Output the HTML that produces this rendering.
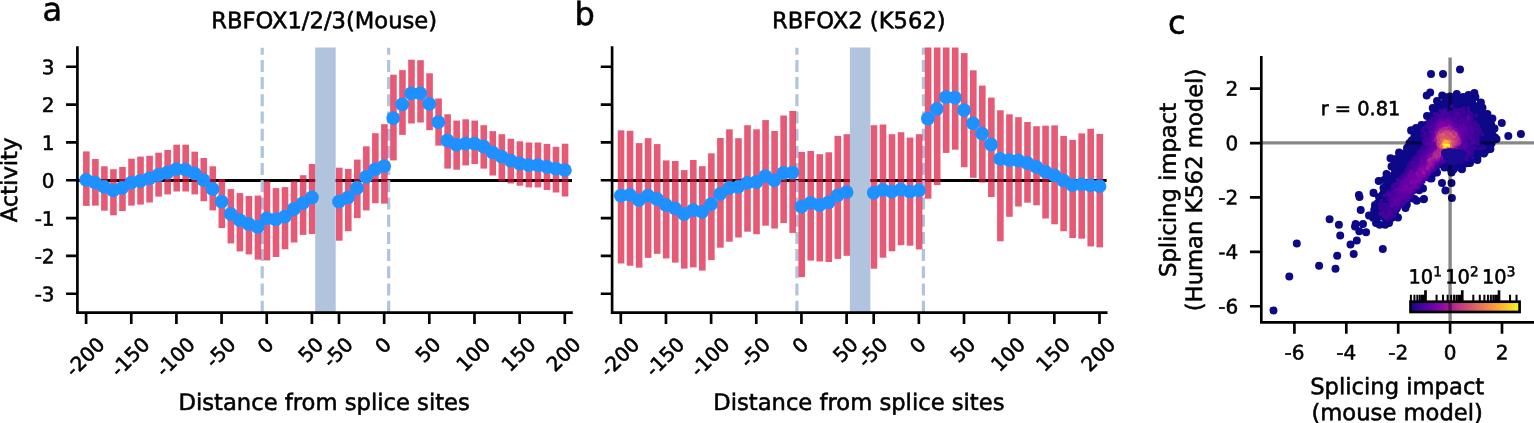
<!DOCTYPE html>
<html lang="en"><head><meta charset="utf-8"><title>RBFOX splicing activity</title>
<style>html,body{margin:0;padding:0;background:#fff}body{width:1534px;height:423px;overflow:hidden}svg{display:block}text{white-space:pre}</style>
</head><body>
<svg width="1534" height="423" viewBox="0 0 1534 423" font-family='"DejaVu Sans","Liberation Sans",sans-serif' fill="#000">
<style>text{stroke:#000;stroke-width:0.55px;paint-order:stroke}</style>
<rect width="1534" height="423" fill="#fff"/>
<clipPath id="clip0"><rect x="77.4" y="47.6" width="494.7" height="265.1"/></clipPath>
<g clip-path="url(#clip0)">
<line x1="77.4" y1="180.5" x2="572.1" y2="180.5" stroke="#000" stroke-width="3.2"/>
<line x1="262.22" y1="312.7" x2="262.22" y2="47.6" stroke="#b0c4de" stroke-width="3.2" stroke-dasharray="12 5.2"/>
<line x1="388.67" y1="312.7" x2="388.67" y2="47.6" stroke="#b0c4de" stroke-width="3.2" stroke-dasharray="12 5.2"/>
<g fill="#dc143c" fill-opacity="0.7">
<rect x="83.05" y="151.4" width="6.6" height="54.5"/>
<rect x="92.08" y="159" width="6.6" height="46.6"/>
<rect x="101.11" y="166.3" width="6.6" height="44.4"/>
<rect x="110.15" y="169.2" width="6.6" height="46.1"/>
<rect x="119.18" y="166.9" width="6.6" height="44.1"/>
<rect x="128.21" y="158.7" width="6.6" height="46.9"/>
<rect x="137.24" y="156.6" width="6.6" height="48"/>
<rect x="146.27" y="155.8" width="6.6" height="46.7"/>
<rect x="155.31" y="152.7" width="6.6" height="43.9"/>
<rect x="164.34" y="150" width="6.6" height="44.4"/>
<rect x="173.37" y="144.7" width="6.6" height="46.8"/>
<rect x="182.4" y="144.7" width="6.6" height="46.8"/>
<rect x="191.43" y="151.7" width="6.6" height="42.7"/>
<rect x="200.47" y="158" width="6.6" height="43.2"/>
<rect x="209.5" y="166.3" width="6.6" height="44.1"/>
<rect x="218.53" y="179.1" width="6.6" height="49"/>
<rect x="227.56" y="189.1" width="6.6" height="54.3"/>
<rect x="236.59" y="193.1" width="6.6" height="58.3"/>
<rect x="245.63" y="196" width="6.6" height="58.4"/>
<rect x="254.66" y="195.6" width="6.6" height="64"/>
<rect x="263.69" y="181.2" width="6.6" height="79.2"/>
<rect x="272.72" y="188.1" width="6.6" height="68.9"/>
<rect x="281.75" y="187.1" width="6.6" height="62.2"/>
<rect x="290.79" y="181.2" width="6.6" height="61.3"/>
<rect x="299.82" y="175.2" width="6.6" height="59.7"/>
<rect x="308.85" y="164" width="6.6" height="70"/>
<rect x="335.95" y="167.7" width="6.6" height="73"/>
<rect x="344.98" y="168.9" width="6.6" height="62.3"/>
<rect x="354.01" y="159.6" width="6.6" height="58.5"/>
<rect x="363.04" y="146.3" width="6.6" height="64.1"/>
<rect x="372.07" y="133.2" width="6.6" height="70"/>
<rect x="381.11" y="124.2" width="6.6" height="79.4"/>
<rect x="390.14" y="74.7" width="6.6" height="85.7"/>
<rect x="399.17" y="70.1" width="6.6" height="64.8"/>
<rect x="408.2" y="59.7" width="6.6" height="63.8"/>
<rect x="417.23" y="60.2" width="6.6" height="62.3"/>
<rect x="426.27" y="73.3" width="6.6" height="56.8"/>
<rect x="435.3" y="98.5" width="6.6" height="47.1"/>
<rect x="444.33" y="114.3" width="6.6" height="54.3"/>
<rect x="453.36" y="120.6" width="6.6" height="49.1"/>
<rect x="462.39" y="119.3" width="6.6" height="46.1"/>
<rect x="471.43" y="120.6" width="6.6" height="43.4"/>
<rect x="480.46" y="125.2" width="6.6" height="43.4"/>
<rect x="489.49" y="131.1" width="6.6" height="44.4"/>
<rect x="498.52" y="134.2" width="6.6" height="47.3"/>
<rect x="507.55" y="138.8" width="6.6" height="44.7"/>
<rect x="516.59" y="141.3" width="6.6" height="44.4"/>
<rect x="525.62" y="142.5" width="6.6" height="44.9"/>
<rect x="534.65" y="142.5" width="6.6" height="44.9"/>
<rect x="543.68" y="143.9" width="6.6" height="46.1"/>
<rect x="552.71" y="146.8" width="6.6" height="45.7"/>
<rect x="561.75" y="143.7" width="6.6" height="52.8"/>
</g>
<rect x="315.2" y="46.6" width="20.5" height="266.1" fill="#b0c4de"/>
</g>
<g fill="#1e90ff">
<circle cx="86.1" cy="179.8" r="6.9"/>
<circle cx="95.13" cy="182.7" r="6.9"/>
<circle cx="104.16" cy="186.9" r="6.9"/>
<circle cx="113.2" cy="190.3" r="6.9"/>
<circle cx="122.23" cy="187.8" r="6.9"/>
<circle cx="131.26" cy="182.7" r="6.9"/>
<circle cx="140.29" cy="181" r="6.9"/>
<circle cx="149.32" cy="178.4" r="6.9"/>
<circle cx="158.36" cy="175" r="6.9"/>
<circle cx="167.39" cy="172.5" r="6.9"/>
<circle cx="176.42" cy="169.1" r="6.9"/>
<circle cx="185.45" cy="169.6" r="6.9"/>
<circle cx="194.48" cy="173.3" r="6.9"/>
<circle cx="203.52" cy="180.1" r="6.9"/>
<circle cx="212.55" cy="189" r="6.9"/>
<circle cx="221.58" cy="201.7" r="6.9"/>
<circle cx="230.61" cy="213.8" r="6.9"/>
<circle cx="239.64" cy="220.1" r="6.9"/>
<circle cx="248.68" cy="224" r="6.9"/>
<circle cx="257.71" cy="226.9" r="6.9"/>
<circle cx="266.74" cy="218.4" r="6.9"/>
<circle cx="275.77" cy="219.3" r="6.9"/>
<circle cx="284.8" cy="216.7" r="6.9"/>
<circle cx="293.84" cy="209" r="6.9"/>
<circle cx="302.87" cy="203.1" r="6.9"/>
<circle cx="311.9" cy="197.5" r="6.9"/>
<circle cx="339" cy="201.6" r="6.9"/>
<circle cx="348.03" cy="197.3" r="6.9"/>
<circle cx="357.06" cy="188" r="6.9"/>
<circle cx="366.09" cy="176.9" r="6.9"/>
<circle cx="375.12" cy="169.3" r="6.9"/>
<circle cx="384.16" cy="166.2" r="6.9"/>
<circle cx="393.19" cy="118.1" r="6.9"/>
<circle cx="402.22" cy="104.3" r="6.9"/>
<circle cx="411.25" cy="93.4" r="6.9"/>
<circle cx="420.28" cy="93.4" r="6.9"/>
<circle cx="429.32" cy="103.9" r="6.9"/>
<circle cx="438.35" cy="122.2" r="6.9"/>
<circle cx="447.38" cy="140.5" r="6.9"/>
<circle cx="456.41" cy="144.8" r="6.9"/>
<circle cx="465.44" cy="143.6" r="6.9"/>
<circle cx="474.48" cy="143.6" r="6.9"/>
<circle cx="483.51" cy="146.5" r="6.9"/>
<circle cx="492.54" cy="152.4" r="6.9"/>
<circle cx="501.57" cy="156.7" r="6.9"/>
<circle cx="510.6" cy="160.6" r="6.9"/>
<circle cx="519.64" cy="163.5" r="6.9"/>
<circle cx="528.67" cy="165.2" r="6.9"/>
<circle cx="537.7" cy="165.2" r="6.9"/>
<circle cx="546.73" cy="166.9" r="6.9"/>
<circle cx="555.76" cy="168.6" r="6.9"/>
<circle cx="564.8" cy="170.2" r="6.9"/>
</g>
<path d="M77.4 46.27V312.7M76.07 312.7H572.84" stroke="#000" stroke-width="2.67" fill="none"/>
<path d="M66.07 66.73H77.4M66.07 104.57H77.4M66.07 142.41H77.4M66.07 180.25H77.4M66.07 218.09H77.4M66.07 255.93H77.4M66.07 293.77H77.4M86.1 312.7V323.93M131.26 312.7V323.93M176.42 312.7V323.93M221.58 312.7V323.93M266.74 312.7V323.93M311.9 312.7V323.93M339 312.7V323.93M384.16 312.7V323.93M429.32 312.7V323.93M474.48 312.7V323.93M519.64 312.7V323.93M564.8 312.7V323.93" stroke="#000" stroke-width="2.67" fill="none"/>
<text transform="translate(54.6 74.28) rotate(0.03)" font-size="20" text-anchor="end">3</text>
<text transform="translate(54.6 112.12) rotate(0.03)" font-size="20" text-anchor="end">2</text>
<text transform="translate(54.6 149.96) rotate(0.03)" font-size="20" text-anchor="end">1</text>
<text transform="translate(54.6 187.8) rotate(0.03)" font-size="20" text-anchor="end">0</text>
<text transform="translate(54.6 225.64) rotate(0.03)" font-size="20" text-anchor="end">-1</text>
<text transform="translate(54.6 263.48) rotate(0.03)" font-size="20" text-anchor="end">-2</text>
<text transform="translate(54.6 301.32) rotate(0.03)" font-size="20" text-anchor="end">-3</text>
<text transform="translate(84.7 356.65) rotate(-45)" x="0" y="7.3" font-size="20" text-anchor="middle">-200</text>
<text transform="translate(129.86 356.65) rotate(-45)" x="0" y="7.3" font-size="20" text-anchor="middle">-150</text>
<text transform="translate(175.02 356.65) rotate(-45)" x="0" y="7.3" font-size="20" text-anchor="middle">-100</text>
<text transform="translate(220.18 352.15) rotate(-45)" x="0" y="7.3" font-size="20" text-anchor="middle">-50</text>
<text transform="translate(265.34 345.1) rotate(-45)" x="0" y="7.3" font-size="20" text-anchor="middle">0</text>
<text transform="translate(310.5 349.6) rotate(-45)" x="0" y="7.3" font-size="20" text-anchor="middle">50</text>
<text transform="translate(337.6 352.15) rotate(-45)" x="0" y="7.3" font-size="20" text-anchor="middle">-50</text>
<text transform="translate(382.76 345.1) rotate(-45)" x="0" y="7.3" font-size="20" text-anchor="middle">0</text>
<text transform="translate(427.92 349.6) rotate(-45)" x="0" y="7.3" font-size="20" text-anchor="middle">50</text>
<text transform="translate(473.08 354.09) rotate(-45)" x="0" y="7.3" font-size="20" text-anchor="middle">100</text>
<text transform="translate(518.24 354.09) rotate(-45)" x="0" y="7.3" font-size="20" text-anchor="middle">150</text>
<text transform="translate(563.4 354.09) rotate(-45)" x="0" y="7.3" font-size="20" text-anchor="middle">200</text>
<text transform="translate(324.15 28.2) rotate(0.03)" font-size="22.67" text-anchor="middle">RBFOX1/2/3(Mouse)</text>
<text transform="translate(324.15 410) rotate(0.03)" font-size="22.67" text-anchor="middle">Distance from splice sites</text>
<clipPath id="clip534"><rect x="612.1" y="47.6" width="494.7" height="265.1"/></clipPath>
<g clip-path="url(#clip534)">
<line x1="612.1" y1="180.5" x2="1106.8" y2="180.5" stroke="#000" stroke-width="3.2"/>
<line x1="796.92" y1="312.7" x2="796.92" y2="47.6" stroke="#b0c4de" stroke-width="3.2" stroke-dasharray="12 5.2"/>
<line x1="923.37" y1="312.7" x2="923.37" y2="47.6" stroke="#b0c4de" stroke-width="3.2" stroke-dasharray="12 5.2"/>
<g fill="#dc143c" fill-opacity="0.7">
<rect x="617.75" y="130.3" width="6.6" height="133.2"/>
<rect x="626.78" y="130.8" width="6.6" height="134.9"/>
<rect x="635.81" y="143.1" width="6.6" height="124.6"/>
<rect x="644.85" y="138.2" width="6.6" height="119.7"/>
<rect x="653.88" y="144.1" width="6.6" height="109.7"/>
<rect x="662.91" y="160.4" width="6.6" height="98"/>
<rect x="671.94" y="161" width="6.6" height="101.6"/>
<rect x="680.97" y="170.1" width="6.6" height="98.5"/>
<rect x="690.01" y="160" width="6.6" height="107.4"/>
<rect x="699.04" y="166.2" width="6.6" height="104.4"/>
<rect x="708.07" y="153.3" width="6.6" height="106.8"/>
<rect x="717.1" y="138" width="6.6" height="109.7"/>
<rect x="726.13" y="129.3" width="6.6" height="112.4"/>
<rect x="735.17" y="138.2" width="6.6" height="99.3"/>
<rect x="744.2" y="125.2" width="6.6" height="106.5"/>
<rect x="753.23" y="129.3" width="6.6" height="104.9"/>
<rect x="762.26" y="120.1" width="6.6" height="105.6"/>
<rect x="771.29" y="131" width="6.6" height="97.6"/>
<rect x="780.33" y="115.5" width="6.6" height="107.5"/>
<rect x="789.36" y="110.9" width="6.6" height="122"/>
<rect x="798.39" y="151.9" width="6.6" height="125.2"/>
<rect x="807.42" y="151" width="6.6" height="109.6"/>
<rect x="816.45" y="154.2" width="6.6" height="107.3"/>
<rect x="825.49" y="152.3" width="6.6" height="109.7"/>
<rect x="834.52" y="135.9" width="6.6" height="123"/>
<rect x="843.55" y="134.2" width="6.6" height="121.6"/>
<rect x="870.65" y="125.2" width="6.6" height="143.5"/>
<rect x="879.68" y="124.5" width="6.6" height="133.2"/>
<rect x="888.71" y="134.2" width="6.6" height="117.1"/>
<rect x="897.74" y="132.2" width="6.6" height="113"/>
<rect x="906.77" y="137.6" width="6.6" height="108.1"/>
<rect x="915.81" y="134.2" width="6.6" height="115.2"/>
<rect x="924.84" y="40" width="6.6" height="158.7"/>
<rect x="933.87" y="40" width="6.6" height="145.1"/>
<rect x="942.9" y="40" width="6.6" height="112.9"/>
<rect x="951.93" y="40" width="6.6" height="109.7"/>
<rect x="960.97" y="53.1" width="6.6" height="114.1"/>
<rect x="970" y="70.3" width="6.6" height="107.5"/>
<rect x="979.03" y="85.6" width="6.6" height="96.9"/>
<rect x="988.06" y="97.6" width="6.6" height="99.4"/>
<rect x="997.09" y="110.3" width="6.6" height="131"/>
<rect x="1006.13" y="114.3" width="6.6" height="102.5"/>
<rect x="1015.16" y="117.2" width="6.6" height="89.3"/>
<rect x="1024.19" y="122" width="6.6" height="80.7"/>
<rect x="1033.22" y="126.2" width="6.6" height="79.1"/>
<rect x="1042.25" y="125.7" width="6.6" height="92.8"/>
<rect x="1051.29" y="125.4" width="6.6" height="98.9"/>
<rect x="1060.32" y="135.9" width="6.6" height="95.3"/>
<rect x="1069.35" y="139.9" width="6.6" height="98.1"/>
<rect x="1078.38" y="133.4" width="6.6" height="105.3"/>
<rect x="1087.41" y="128.8" width="6.6" height="117.6"/>
<rect x="1096.45" y="133.9" width="6.6" height="113.5"/>
</g>
<rect x="849.9" y="46.6" width="20.5" height="266.1" fill="#b0c4de"/>
</g>
<g fill="#1e90ff">
<circle cx="620.8" cy="195.6" r="6.9"/>
<circle cx="629.83" cy="194.8" r="6.9"/>
<circle cx="638.86" cy="200.2" r="6.9"/>
<circle cx="647.9" cy="195.6" r="6.9"/>
<circle cx="656.93" cy="199" r="6.9"/>
<circle cx="665.96" cy="205" r="6.9"/>
<circle cx="674.99" cy="208.4" r="6.9"/>
<circle cx="684.02" cy="214" r="6.9"/>
<circle cx="693.06" cy="210.1" r="6.9"/>
<circle cx="702.09" cy="211.8" r="6.9"/>
<circle cx="711.12" cy="204.1" r="6.9"/>
<circle cx="720.15" cy="193.9" r="6.9"/>
<circle cx="729.18" cy="188" r="6.9"/>
<circle cx="738.22" cy="186.8" r="6.9"/>
<circle cx="747.25" cy="182.9" r="6.9"/>
<circle cx="756.28" cy="182" r="6.9"/>
<circle cx="765.31" cy="176.1" r="6.9"/>
<circle cx="774.34" cy="180.3" r="6.9"/>
<circle cx="783.38" cy="173" r="6.9"/>
<circle cx="792.41" cy="172.7" r="6.9"/>
<circle cx="801.44" cy="206.7" r="6.9"/>
<circle cx="810.47" cy="202.8" r="6.9"/>
<circle cx="819.5" cy="205" r="6.9"/>
<circle cx="828.54" cy="202.4" r="6.9"/>
<circle cx="837.57" cy="195.3" r="6.9"/>
<circle cx="846.6" cy="192.2" r="6.9"/>
<circle cx="873.7" cy="192.8" r="6.9"/>
<circle cx="882.73" cy="189.9" r="6.9"/>
<circle cx="891.76" cy="191.6" r="6.9"/>
<circle cx="900.79" cy="189.6" r="6.9"/>
<circle cx="909.82" cy="191.6" r="6.9"/>
<circle cx="918.86" cy="190.4" r="6.9"/>
<circle cx="927.89" cy="118.6" r="6.9"/>
<circle cx="936.92" cy="108.8" r="6.9"/>
<circle cx="945.95" cy="97.1" r="6.9"/>
<circle cx="954.98" cy="97.7" r="6.9"/>
<circle cx="964.02" cy="110.2" r="6.9"/>
<circle cx="973.05" cy="123.4" r="6.9"/>
<circle cx="982.08" cy="133.6" r="6.9"/>
<circle cx="991.11" cy="144.5" r="6.9"/>
<circle cx="1000.14" cy="158.9" r="6.9"/>
<circle cx="1009.18" cy="160.1" r="6.9"/>
<circle cx="1018.21" cy="160.5" r="6.9"/>
<circle cx="1027.24" cy="163" r="6.9"/>
<circle cx="1036.27" cy="166.9" r="6.9"/>
<circle cx="1045.3" cy="171.7" r="6.9"/>
<circle cx="1054.34" cy="175.4" r="6.9"/>
<circle cx="1063.37" cy="180.5" r="6.9"/>
<circle cx="1072.4" cy="185.1" r="6.9"/>
<circle cx="1081.43" cy="184.3" r="6.9"/>
<circle cx="1090.46" cy="185.3" r="6.9"/>
<circle cx="1099.5" cy="186.2" r="6.9"/>
</g>
<path d="M612.1 46.27V312.7M610.76 312.7H1107.54" stroke="#000" stroke-width="2.67" fill="none"/>
<path d="M600.76 66.73H612.1M600.76 104.57H612.1M600.76 142.41H612.1M600.76 180.25H612.1M600.76 218.09H612.1M600.76 255.93H612.1M600.76 293.77H612.1M620.8 312.7V323.93M665.96 312.7V323.93M711.12 312.7V323.93M756.28 312.7V323.93M801.44 312.7V323.93M846.6 312.7V323.93M873.7 312.7V323.93M918.86 312.7V323.93M964.02 312.7V323.93M1009.18 312.7V323.93M1054.34 312.7V323.93M1099.5 312.7V323.93" stroke="#000" stroke-width="2.67" fill="none"/>
<text transform="translate(619.4 356.65) rotate(-45)" x="0" y="7.3" font-size="20" text-anchor="middle">-200</text>
<text transform="translate(664.56 356.65) rotate(-45)" x="0" y="7.3" font-size="20" text-anchor="middle">-150</text>
<text transform="translate(709.72 356.65) rotate(-45)" x="0" y="7.3" font-size="20" text-anchor="middle">-100</text>
<text transform="translate(754.88 352.15) rotate(-45)" x="0" y="7.3" font-size="20" text-anchor="middle">-50</text>
<text transform="translate(800.04 345.1) rotate(-45)" x="0" y="7.3" font-size="20" text-anchor="middle">0</text>
<text transform="translate(845.2 349.6) rotate(-45)" x="0" y="7.3" font-size="20" text-anchor="middle">50</text>
<text transform="translate(872.3 352.15) rotate(-45)" x="0" y="7.3" font-size="20" text-anchor="middle">-50</text>
<text transform="translate(917.46 345.1) rotate(-45)" x="0" y="7.3" font-size="20" text-anchor="middle">0</text>
<text transform="translate(962.62 349.6) rotate(-45)" x="0" y="7.3" font-size="20" text-anchor="middle">50</text>
<text transform="translate(1007.78 354.09) rotate(-45)" x="0" y="7.3" font-size="20" text-anchor="middle">100</text>
<text transform="translate(1052.94 354.09) rotate(-45)" x="0" y="7.3" font-size="20" text-anchor="middle">150</text>
<text transform="translate(1098.1 354.09) rotate(-45)" x="0" y="7.3" font-size="20" text-anchor="middle">200</text>
<text transform="translate(858.85 28.2) rotate(0.03)" font-size="22.67" text-anchor="middle">RBFOX2 (K562)</text>
<text transform="translate(858.85 410) rotate(0.03)" font-size="22.67" text-anchor="middle">Distance from splice sites</text>
<text transform="translate(17.1 180) rotate(-89.97)" font-size="22.67" text-anchor="middle">Activity</text>
<text transform="translate(42.4 20.5) rotate(0.03)" font-size="32">a</text>
<text transform="translate(574.4 24.9) rotate(0.03)" font-size="32">b</text>
<text transform="translate(1168.1 33.4) rotate(0.03)" font-size="32">c</text>
<path d="M1423.7 199.2h0M1431.5 178.5h0M1416.7 200.7h0M1373.5 192.8h0M1378.8 181h0M1431 73.9h0M1443 73.9h0M1460 69.4h0M1426.7 95.5h0M1430.2 92.5h0M1501.8 123.1h0M1508.3 136.1h0M1520.9 133.9h0M1451.5 183.1h0M1451.9 198h0M1442 183.1h0M1445.4 190.6h0M1424 198.9h0M1462 169.3h0M1477.4 160h0M1358.9 195h0M1359.5 197h0M1360.7 210h0M1329.6 219.3h0M1338.9 224.8h0M1355.6 223.9h0M1363 223.9h0M1359.3 231.3h0M1366.1 232.2h0M1340.2 235.5h0M1296.8 243.5h0M1289.3 276.5h0M1319.1 265.7h0M1335.5 268.7h0M1337.2 255.7h0M1353.7 253.9h0M1350.5 244.6h0M1356.8 240.4h0M1355 226.5h0M1382.8 249.1h0M1273.5 310.4h0M1399 152.8h0M1390.5 158.3h0M1411.1 130.2h0M1421.5 125h0M1373.5 193h0M1378.7 180.9h0M1442.2 95.5h0M1450 96.5h0M1456.8 94h0M1463.3 97h0M1468.5 95h0M1474.4 93h0M1480.9 102.6h0M1487.4 114h0M1492.4 118.6h0M1494.5 128.5h0M1496.5 139h0M1490.4 149.1h0M1484 153.5h0M1477.4 157.7h0M1470 163h0M1461.1 168.5h0M1452 170h0M1444.4 167.4h0M1437 172.5h0M1430.5 178.5h0M1423 188.5h0M1414.5 199h0M1405.5 208h0M1398 217.4h0M1389 223h0M1385.2 224.8h0M1379.6 224.8h0M1376 223h0M1369 215.6h0M1375 205h0M1379 197h0M1383.5 188h0M1384 180h0M1386.5 174h0M1391.5 166.5h0M1391 158.4h0M1399.1 152.6h0M1409.5 143h0M1411.1 130.5h0M1416 128h0M1421.7 125h0M1427 116h0M1432.7 108h0M1437 101h0M1447.5 164h0M1452 165h0M1456 163.5h0M1450 168.5h0M1453.5 169.5h0M1451.5 172.5h0M1473 158.9h0M1430 144.3h0M1381.2 206.6h0M1435 119.7h0M1464.5 125.9h0M1452.6 130.7h0M1405.1 165.7h0M1444.1 148.6h0M1428.9 137h0M1416 177.8h0M1454.2 123.7h0M1393.7 209.4h0M1457.2 152.8h0M1467.3 154.9h0M1418.6 150.2h0M1459.2 138.8h0M1441 107h0M1419.4 154.3h0M1465.7 98.1h0M1466.4 106.8h0M1441.7 151.4h0M1393.5 204.2h0M1449.3 110.7h0M1471.1 138.1h0M1415.3 171.7h0M1431.8 150.5h0M1460.2 143.6h0M1456.8 98h0M1444.7 146.7h0M1455.4 125.3h0M1455.3 141.7h0M1440.1 109.3h0M1392.5 178.1h0M1432.1 174.5h0M1469.3 151.5h0M1418.6 143.3h0M1465 128.2h0M1416.8 148.6h0M1412.5 141h0M1441.2 151.9h0M1465.3 115.2h0M1492.4 134h0M1478.4 111.5h0M1475.5 110.2h0M1400.9 168.3h0M1442.3 121.3h0M1408.4 165.8h0M1448.6 132h0M1443.8 130.3h0M1418 160.1h0M1420 161.9h0M1398.6 169h0M1403.4 180.8h0M1411.4 189.9h0M1437.6 143.6h0M1484.1 135.7h0M1444.5 107.8h0M1389.2 186.7h0M1421.5 174.3h0M1479.1 137.4h0M1460 117.5h0M1407.2 192.8h0M1415.6 148h0M1432.1 139.9h0M1482.5 141.7h0M1441.4 146.4h0M1454.6 109.7h0M1455.4 149.1h0M1430.1 157.7h0M1451.9 162.7h0M1418.2 156.1h0M1481.7 147.4h0M1431 126.1h0M1462.2 161.1h0M1384 209.1h0M1421.4 157.8h0M1451.3 168.6h0M1413.1 164.2h0M1453.1 134.7h0M1443.1 165h0M1459.1 115.6h0M1434.3 164.2h0M1397.6 166.7h0M1475.5 146.7h0M1432.6 116.6h0M1440.9 155.6h0M1391.4 201.6h0M1409.6 172.6h0M1435.5 165.7h0M1417.2 154h0M1476.7 132h0M1465.7 122.6h0M1394.4 202.5h0M1481.8 121.4h0M1453.8 111.4h0M1451 106.7h0M1458.2 135.8h0M1396.9 208.3h0M1463.1 147.5h0M1447.9 131.8h0M1477.6 134.3h0M1398.9 204.8h0M1395.7 169.1h0M1452.9 163.6h0M1463.5 155.3h0M1445.1 143.4h0M1459.6 109.2h0M1405.3 180h0M1409.3 190.4h0M1463.6 158.9h0M1473.2 115.9h0M1467.4 106.5h0M1432.2 123.2h0M1422.7 140.4h0M1450.6 132.2h0M1467.5 116h0M1428.7 133.8h0M1437.4 120.6h0M1433.6 161.7h0M1476.4 155.1h0M1389.9 213h0M1382.4 206.4h0M1462.2 139.1h0M1455.2 122.4h0M1435.7 162.6h0M1377.2 214.8h0M1449.9 115.4h0M1465.2 149h0M1415.7 176.1h0M1401.6 202.2h0M1477.4 110.4h0M1411.6 153.1h0M1395.2 194.4h0M1445 123.5h0M1374.7 208.6h0M1401.3 175.6h0M1465 146.1h0M1418.8 157.6h0M1442.5 138.4h0M1486.4 128.7h0M1416.7 180.1h0M1416 177h0M1456.7 128.7h0M1406.4 183.1h0M1460.8 155.6h0M1444.7 122.2h0M1402.7 188.8h0M1439.8 142.7h0M1459.5 140.9h0M1452.6 160.5h0M1381.9 206.9h0M1415.3 139.1h0M1462.1 134.5h0M1455.3 119.7h0M1491.6 143.2h0M1418.1 176.8h0M1419.4 163.5h0M1460.2 127.4h0M1409.4 182.2h0M1482.5 107.8h0M1433.4 157.4h0M1390.1 219.5h0M1390.2 186.4h0M1450 102.7h0M1435 141.1h0M1490 138.2h0M1465.7 119.9h0M1470.7 118h0M1451.4 122.1h0M1479.9 129.8h0M1444.3 138.9h0M1452.2 145.3h0M1452.4 135.9h0M1380.2 208.3h0M1473.4 153h0M1429.2 148.5h0M1457.7 102.9h0M1382.2 215.3h0M1465.6 125.8h0M1403.3 190.6h0M1404.1 184.6h0M1392.6 189.3h0M1382.2 203h0M1421.6 157.1h0M1453.2 119.9h0M1476.3 114.9h0M1427.7 133.2h0M1479.4 138.1h0M1410.3 170.4h0M1428.7 165.1h0M1406 171.5h0M1455 143h0M1461.2 154.8h0M1471.3 145.8h0M1403.9 178.4h0M1431 125.8h0M1457.2 160.4h0M1384.1 208.2h0M1455.2 133.7h0M1384.2 203.7h0M1445.7 118.2h0M1409 167.2h0M1487 133.2h0M1424.3 154h0M1390.3 212.3h0M1483.2 130.9h0M1489.1 146.2h0M1426 162.4h0M1492.2 135.9h0M1433.8 151.1h0M1433.8 160h0M1421.4 172.7h0M1495.1 137.4h0M1408.7 175.1h0M1452.7 101.4h0M1429.8 130.6h0M1435.9 121.1h0M1415.4 169.8h0M1432.2 149h0M1446.6 97.3h0M1456.9 131.2h0M1451 153.5h0M1446.5 105.4h0M1379 212.9h0M1452 105.2h0M1394.3 204.6h0M1421.5 149.2h0M1452.4 144.4h0M1446.1 103.4h0M1454.4 104.4h0M1383.6 201.5h0M1385.9 215h0M1491.7 130.2h0M1462.5 134.5h0M1444 109.8h0M1417.4 182.2h0M1414.1 144.3h0M1468.5 142.9h0M1418.4 136.7h0M1427.7 145.4h0M1408.7 182.3h0M1483 151.2h0M1403.4 190.3h0M1469.9 128.4h0M1482.4 134.8h0M1481.5 131.7h0M1464.9 118h0M1452.5 137.8h0M1449.2 141h0M1467.7 103.2h0M1404.2 187.5h0M1453 145.4h0M1424.5 160.6h0M1405.7 190.3h0M1462.8 147.6h0M1406 152.6h0M1432.1 136.7h0M1411.5 182.9h0M1460.4 112.4h0M1434.2 145.4h0M1475.1 113.1h0M1416.7 148.4h0M1476.3 112.4h0M1442 108.4h0M1456.3 136.6h0M1429.3 160.1h0M1421.2 141.7h0M1416.9 147.6h0M1458.4 134.6h0M1415.3 165h0M1455.8 165.8h0M1479.4 105.2h0M1483 132.7h0M1462.5 157.2h0M1425.7 168.6h0M1440 157.2h0M1468 135.6h0M1412.4 190.2h0M1411.3 158.6h0M1406.2 161.8h0M1427.3 128.9h0M1411.3 149.6h0M1391 217.3h0M1418.4 160.1h0M1477.3 114.4h0M1483.5 118.9h0M1395 193.6h0M1408.4 151.4h0M1441.3 115.9h0M1482 128.6h0M1430.9 171.2h0M1386.7 189.7h0M1397.2 158.7h0M1450 137h0M1463.8 152.5h0M1486.9 120.7h0M1446.6 109.2h0M1447.5 135.4h0M1457.6 128.2h0M1448.7 133.3h0M1460.5 161.3h0M1454.2 127.3h0M1470 153.6h0M1430.2 137.8h0M1408.1 175.4h0M1417.5 163.9h0M1461.3 127.5h0M1467.1 150.7h0M1444.4 161.5h0M1423.8 161.6h0M1439.7 147.6h0M1483.7 135.3h0M1389.9 181.5h0M1411 165.8h0M1464 147.2h0M1436.8 116.3h0M1408.7 183.1h0M1464.4 111.3h0M1419 177.7h0M1392 204.8h0M1428 150h0M1418.6 173.2h0M1407.1 153.3h0M1484.8 129.7h0M1405.3 192.6h0M1421.6 128h0M1415.8 135.1h0M1392 217.7h0M1423 147.3h0M1417.7 168.6h0M1407.8 167.6h0M1467.2 106h0M1463.1 139.7h0M1433.6 128h0M1408 173.3h0M1471.4 145.2h0M1442 142.9h0M1445 151.1h0M1404 175.1h0M1457.3 146h0M1445.3 124.1h0M1448.9 141.4h0M1481.4 122.6h0M1413.8 140h0M1469.2 145.9h0M1430.7 130.8h0M1458 162.6h0M1399.5 182.4h0M1416 173h0M1437.6 123.3h0M1402.7 200.1h0M1427.2 137.4h0M1438.7 119.8h0M1410.3 159.2h0M1444.6 110.4h0M1452.6 150.9h0M1458.1 131h0M1451.8 110.3h0M1423.4 134.7h0M1406.8 204.7h0M1435 136h0M1377.2 214.9h0M1414.4 189.6h0M1482.1 140.7h0M1438.3 112.2h0M1467.8 141h0M1442.5 141h0M1440.3 114.9h0M1469.2 140.9h0M1416.5 165.1h0M1374.2 210.3h0M1467.9 134.9h0M1468.3 111.8h0M1393.2 192.4h0M1442.5 138.2h0M1385.9 204h0M1432.8 153.1h0M1452 132.8h0M1406.9 154.7h0M1430.4 135.9h0M1457.4 116.1h0M1438 116.5h0M1421.5 171.8h0M1470.4 103.9h0M1411.3 178.1h0M1471.4 127h0M1400.2 202.9h0M1479.7 116h0M1466.4 112.1h0M1392.7 193.3h0M1397.9 176.2h0M1452.6 131.9h0M1459.7 102.1h0M1443.6 143.4h0M1421.2 133.9h0M1410.1 191.8h0M1453 101h0M1450.3 161.4h0M1478.9 123.2h0M1397.9 201.6h0M1426.4 160.8h0M1451.2 134.4h0M1482.5 142.8h0M1466.1 105.8h0M1457 118.5h0M1485.8 121.8h0M1492.8 127.7h0M1410.6 177.9h0M1483.5 134.3h0M1478.2 114h0M1474.5 123.7h0M1416.3 141.7h0M1422.5 157.8h0M1487.7 127.7h0M1438.5 138.6h0M1442.8 115.9h0M1433.8 111.8h0M1471.5 113.8h0M1412.8 188.7h0M1392.5 176.1h0M1399.9 186.7h0M1401.3 182.3h0M1429.7 129h0M1420.1 144.3h0M1462.5 116.3h0M1399.6 169.7h0M1412.1 158h0M1379.2 215h0M1399.7 201.5h0M1399.6 191.4h0M1404.8 194.3h0M1481.9 134.6h0M1434.6 123.2h0M1381.8 212.3h0M1443.6 138.6h0M1426.9 145.8h0M1425.7 145.5h0M1383.3 208.6h0M1387.8 198.6h0M1399.5 192.5h0M1454.5 155.5h0M1403.7 190.3h0M1390.7 214.3h0M1479.4 133.2h0M1475.1 124.4h0M1478 117h0M1389.5 195.2h0M1478.5 123h0M1424.5 157.6h0M1462.3 110.9h0M1471.4 129.1h0M1465.2 159.1h0M1459.2 146.7h0M1413.2 183.3h0M1439.9 145.6h0M1443.6 157.7h0M1458.8 146.9h0M1473.7 109.9h0M1457.3 124.5h0M1476.1 123.6h0M1403.6 159.8h0M1410 177h0M1440.4 153.6h0M1470.7 129.8h0M1384 200.5h0M1445.3 165.1h0M1488.3 120.9h0M1466.6 156.9h0M1475.7 151.1h0M1411.9 181.5h0M1431.7 158h0M1386.7 198.9h0M1429.9 138.9h0M1438.1 155.9h0M1475.4 96.9h0M1445.2 121.2h0M1466.3 120.9h0M1409.2 197.5h0M1441.2 145.9h0M1438.4 114.1h0M1414.7 188.6h0M1489.1 139.3h0M1409.1 154.3h0M1478.2 115.6h0M1435.4 131.4h0M1475.8 145.6h0M1457.6 107.5h0M1427.1 124.6h0M1467.4 113.4h0M1433.4 157.8h0M1414.5 136h0M1484.2 122.5h0M1396.6 176.8h0M1412.4 181.8h0M1405.4 171.7h0M1463.8 123.5h0M1416 183.1h0M1447.4 157.9h0M1393.4 193.8h0M1438.4 131.9h0M1473 135.8h0M1453.6 141h0M1395.7 209.8h0M1478.6 143.6h0M1461.7 122.4h0M1482.2 124.4h0M1383.5 211.6h0M1408 180.9h0M1448.8 153h0M1428.8 148.5h0M1406.5 156.9h0M1483.4 130h0M1440.2 121.3h0M1406.9 169h0M1395.7 204.9h0M1450 160.7h0M1458.7 164.1h0M1450.4 150.1h0M1419.8 158.3h0M1424.4 152.4h0M1462.9 100.1h0M1440.1 150.9h0M1468.2 132.8h0M1444.5 102.7h0M1472.1 101h0M1487.1 137.3h0M1469.7 121.2h0M1446.2 135.4h0M1383.5 193h0M1395.1 214.4h0M1401 171h0M1418.6 170.1h0M1442 159.1h0M1441.6 105.1h0M1468.5 124.2h0M1448.7 135.1h0M1417.4 146.7h0M1416.9 157.5h0M1438.1 130.1h0M1379.1 212.2h0M1406.2 161.2h0M1450 104.4h0M1463.9 140.2h0M1418 179h0M1397.3 201.2h0M1474.7 107h0M1474 124.3h0M1426.4 159.4h0M1389.2 180h0M1443.3 148.4h0M1464.5 143.7h0M1432.6 154.7h0M1490.7 138h0M1446.8 110.8h0M1379.8 216.2h0M1477.2 121.7h0M1477 139.2h0M1381.6 210h0M1453.8 117.8h0M1475.9 115.6h0M1464 124.7h0M1412.1 150.5h0M1458.6 117h0M1467.4 143h0M1459.7 146.5h0M1447.1 106.8h0M1418.3 188.8h0M1450.9 116.9h0M1437.1 125.1h0M1483.4 128.1h0M1471.6 142.6h0M1464.5 141.6h0M1427.5 175.8h0M1450.5 156.1h0M1433.9 122.9h0M1471.7 101.5h0M1471 110.6h0M1461.8 158.1h0M1437.4 137.8h0M1454.8 143h0M1485.9 143.4h0M1474.3 110.9h0M1471.4 125.5h0M1450.3 165.8h0M1459.2 104.1h0M1438.8 117.7h0M1408.5 158.6h0M1416.1 165.5h0M1408.4 171.1h0M1456 165.2h0M1382.2 205.5h0M1469.2 140h0M1440.6 129.1h0M1400.7 195.4h0M1440.3 118h0M1468 113.5h0M1441.7 124.6h0M1459.9 105.1h0M1447.6 136.1h0M1471.4 141.7h0M1401.8 179.9h0M1455.6 119.6h0M1467.8 149.8h0M1456 100.9h0M1459.7 135.5h0M1460.9 143.2h0M1425.9 132.9h0M1442.5 136.9h0M1423.5 144.6h0M1387.4 211.1h0M1414 165.2h0M1389.5 210.1h0M1433.4 140.2h0M1471.9 119.3h0M1471.3 109.3h0M1427.7 168.4h0M1458 117.4h0M1427.2 129.8h0M1466.7 104.3h0M1464.6 120.7h0M1422.7 149.9h0M1417.4 185.5h0M1481.2 118.2h0M1469.7 120.4h0M1387.6 213.2h0M1387.3 213.1h0M1394.8 184.6h0M1433.1 166.9h0M1461.5 130h0M1468.7 155.6h0M1404.9 182.6h0M1478.7 138.3h0M1405.7 179h0M1395.9 202.3h0M1435.6 139.4h0M1456.4 113.9h0M1403.1 172.5h0M1463 157.6h0M1394.7 194.7h0M1445.6 153h0M1423.5 174.3h0M1460.4 165.9h0M1476.3 122.7h0M1377.7 217.4h0M1461 141h0M1465.1 103h0M1452.8 150.5h0M1435.6 135.2h0M1465.6 151.8h0M1424.5 154.8h0M1376.7 206.9h0M1453.8 120.6h0M1467.7 107.7h0M1438.4 144.5h0M1429.3 159.6h0M1415.8 159.7h0M1414.9 131.8h0M1405.8 167h0M1404.6 159h0M1472.3 157.3h0M1453.7 109.9h0M1395 171.3h0M1410.7 191.2h0M1456.7 149.5h0M1444.8 149.5h0M1420.4 178.7h0M1456.2 120.8h0M1412.1 157h0M1449 125.2h0M1400.5 157.6h0M1453.8 129.7h0M1473.8 131.9h0M1468.1 143.9h0M1384.8 202.9h0M1465.2 141.9h0M1448.9 122.8h0M1454.1 142.7h0M1439.2 132.8h0M1448 124.9h0M1473.8 131.1h0M1473.3 119.7h0M1429.9 146.9h0M1414.3 139.5h0M1410.1 147.7h0M1413.7 131.3h0M1448.3 157.3h0M1472.2 104.2h0M1393 204.3h0M1405.2 173.5h0M1437.7 111.4h0M1383.9 210.2h0M1458.5 105h0M1453.2 105.3h0M1375 218.6h0M1416.8 160.1h0M1483.6 132.4h0M1463.6 122.6h0M1448.1 163.5h0M1405.6 156.3h0M1425.2 131.2h0M1475.1 147.7h0M1467.6 140.6h0M1453.7 139.9h0M1427 164.6h0M1456.8 114.8h0M1389.6 199.2h0M1474.8 131.4h0M1469.3 131.7h0M1443.4 107.3h0M1420.8 142.7h0M1403 171.3h0M1391.4 186.6h0M1423.8 134.3h0M1397.5 180.3h0M1403.5 157.5h0M1451.4 123.8h0M1396.7 170.3h0M1447.7 146.5h0M1416.7 134.7h0M1473.3 119.5h0M1395.7 202h0M1392.3 206.5h0M1401.9 183.5h0M1399.1 176.1h0M1394.2 180.9h0M1430.6 137.5h0M1427.6 135h0M1447.4 108.4h0M1429.4 145.5h0M1402.3 162.5h0M1409 170h0M1415.7 157.7h0M1466.5 151.4h0M1409.3 154.3h0M1479.6 128.9h0M1394.4 162.6h0M1467.3 135.5h0M1444.4 143.5h0M1402.9 194.5h0M1448.9 135.2h0M1422.2 160.5h0M1408.2 147.1h0M1459.7 139.4h0M1464.6 149.2h0M1461 162h0M1425.5 133.9h0M1453.9 127.1h0M1459.9 166.8h0M1440 110.9h0M1427.4 150.9h0M1399.4 164.1h0M1446.9 156.7h0M1461 101.7h0M1471.9 124.2h0M1442.6 111.8h0M1406.7 168.7h0M1397.6 182.4h0M1428.9 138.2h0M1385.9 185.9h0M1410.8 191.6h0M1413.1 179.3h0M1405.6 195h0M1393 191.6h0M1461 119h0M1394.5 177.2h0M1466.7 153.1h0M1417.9 164.4h0M1454.6 119.5h0M1442.2 118h0M1456.3 125.7h0M1422.5 148.9h0M1467 124.6h0M1477.7 134.2h0M1407 147.9h0M1373.1 217.8h0M1446.9 155h0M1483.4 131.8h0M1444.2 155.1h0M1435.9 167.6h0M1458.4 136.7h0M1432.3 162.4h0M1452.8 124.3h0M1430.5 147.1h0M1401.9 180.3h0M1381.3 203.9h0M1444.6 147.8h0M1461.3 161h0M1459 111.8h0M1419.3 157.6h0M1401 186.7h0M1439.1 141.3h0M1450.5 143.9h0M1428.4 158.2h0M1438.9 105.3h0M1406.7 203.4h0M1467 113h0M1418.3 141.6h0M1430.1 117.9h0M1426.8 136.8h0M1436.9 148.7h0M1461.5 125.6h0M1415.9 159.8h0M1454.6 123.9h0M1452.6 134.1h0M1403 175.9h0M1439.9 156.8h0M1422.7 141.4h0M1438.6 161.7h0M1463.3 129.3h0M1471.2 96.9h0M1477.6 125.6h0M1469.2 111.5h0M1402.1 195.6h0M1441.6 152.6h0M1381.7 215.8h0M1454.4 135.1h0M1389.8 203.1h0M1413.2 188.8h0M1395.3 198.9h0M1421.2 178.6h0M1388.2 195.7h0M1405.8 182.9h0M1405.9 164.8h0M1422.6 169.8h0M1392.2 186.9h0M1411 182.8h0M1386.9 205.6h0M1477.2 131.8h0M1469.4 152.3h0M1427 146.4h0M1485.9 149.5h0M1409.2 180.7h0M1462.9 116.2h0M1393.5 212.1h0M1437.8 153.2h0M1419.9 149.1h0M1464.5 140.6h0M1430 130.3h0M1462.5 118.7h0M1460 160h0M1477.7 136.1h0M1415 161.4h0M1414.3 171.1h0M1475.2 139.6h0M1413 198.6h0M1393.9 206.5h0M1457.7 128.6h0M1486.9 123.5h0M1467.9 162.9h0M1456.8 142.6h0M1470.1 130.4h0M1425.6 168.1h0M1465.5 156.8h0M1421.8 187.8h0M1395.5 177.6h0M1464.7 136.7h0M1462.5 160.7h0M1419.6 133.1h0M1445.7 129.2h0M1454.9 108.9h0M1413.6 155.7h0M1404.6 177.6h0M1446.2 149.6h0M1464.5 112.8h0M1472.3 131.7h0M1475.3 141h0M1434 137.7h0M1408.5 171.7h0M1391.2 179.8h0M1417.3 141.7h0M1478.8 114.9h0M1391.3 188.2h0M1461.5 146.9h0M1467.1 119.2h0M1476.6 123h0M1458.1 128.2h0M1412.9 179.7h0M1438.1 153h0M1473.6 95.3h0M1427.2 152.2h0M1422.6 153.9h0M1447.1 111h0M1463 110.2h0M1398 158.6h0M1382 206.1h0M1423 158.6h0M1422.1 133.2h0M1373.1 214.9h0M1426.4 129.1h0M1452.5 158.5h0M1398.3 184.3h0M1479 107.9h0M1481.1 118.3h0M1378.1 212.3h0M1381.7 215.7h0M1400.3 192.8h0M1482.1 145.8h0M1462.6 158.2h0M1404 188h0M1421 153.4h0M1421.8 149.9h0M1459.4 156.6h0M1470.2 126.3h0M1478.8 131.1h0M1433.2 114.1h0M1425.3 144.7h0M1457.2 122.2h0M1443.2 145.6h0M1382.5 202.6h0M1405.4 185.7h0M1432 140.5h0M1470.4 104.1h0M1424.7 167h0M1488.3 136.7h0M1482.9 121.2h0M1444.8 138.6h0M1429.4 157.9h0M1428.6 159h0M1464.8 137.3h0M1467.1 117.4h0M1474.5 112.2h0M1491.9 136.9h0M1401 172.7h0M1468.6 103.4h0M1447.4 122.3h0M1469.8 143.9h0M1426.5 165.3h0M1461.7 134.8h0M1465.4 163.4h0M1442.5 113.2h0M1480 121.4h0M1391.1 185.9h0M1414.2 155.2h0M1452.1 146.1h0M1399.1 192.8h0M1437.6 142.1h0M1376.2 217.2h0M1476.2 124.1h0M1398.7 166.2h0M1477.4 146.7h0M1436.3 162.8h0M1473.8 118.6h0M1469.9 130.7h0M1473.3 124.8h0M1461.6 130.4h0M1397.6 205.6h0M1442.5 117.5h0M1455.8 143.4h0M1476.5 127.8h0M1399.5 170.2h0M1449.9 162.9h0M1413.7 155.5h0M1428.7 167.1h0M1417 159.1h0M1417.4 183.3h0M1439 123.7h0M1470.5 119.9h0M1464.1 115.6h0M1404.8 158.8h0M1400.6 204.3h0M1417.4 173.2h0M1435 138.1h0M1414.8 170.8h0M1405.7 169.1h0M1459.7 167.1h0M1418.9 158.2h0M1431.2 159.3h0M1439.1 129.6h0M1421.9 173.4h0M1388.7 183.4h0M1464.1 131.9h0M1478.4 118.4h0M1420.6 150.6h0M1399.3 164.7h0M1457.1 144.6h0M1474.7 128.9h0M1444.1 108.5h0M1397 179.4h0M1439.6 127.2h0M1451.3 118.6h0M1409.6 196.9h0M1435.9 114.5h0M1466 111.7h0M1402.8 169.1h0M1393.3 187.3h0M1436.4 148.3h0M1435.8 164.2h0M1453.7 152.4h0M1433.8 156.5h0M1474.9 124.1h0M1390.8 212.4h0M1395.7 207.9h0M1426.7 136.5h0M1449.8 97.6h0M1431.3 141.1h0M1459.7 160.2h0M1385 218h0M1400.9 185.6h0M1450.2 125.9h0M1419.2 190.3h0M1386.1 193.6h0M1393.7 207.9h0M1426 147.6h0M1416.2 138.5h0M1388.9 212.1h0M1448.6 117.4h0M1463 104.6h0M1431.2 117.5h0M1469.9 134.5h0M1420.9 161.2h0M1426.2 153.2h0M1475.7 134.4h0M1434.9 156.1h0M1451.8 116.2h0M1488.5 117.9h0M1462.2 119.7h0M1424.2 171.2h0M1488.9 129.3h0M1425.5 131.8h0M1402.8 166.8h0M1428.8 131.8h0M1420.8 145h0M1476.7 148.3h0M1429.7 152.9h0M1448.2 112.7h0M1468.6 124.4h0M1406.3 185.4h0M1443.8 112.3h0M1410 193h0M1444.9 144.5h0M1403.1 197.4h0M1444.7 156.3h0M1480.2 120.6h0M1473.8 112.7h0M1419.9 172h0M1446.6 153h0M1413.1 150.5h0M1450.1 140.7h0M1426.5 177.1h0M1447.1 108.6h0M1465.1 154.1h0M1470.7 106.6h0M1434.9 150.9h0M1460 147h0M1452.9 164.9h0M1408.4 167.8h0M1448 130.4h0M1408.6 159.7h0M1412.7 189h0M1428.7 139.5h0M1487.6 135.6h0M1463.7 159.1h0M1466.6 100.4h0M1460.5 115.3h0M1417.3 140.9h0M1385.2 204.5h0M1463.1 114.1h0M1451.4 108.6h0M1478.5 118h0M1486.2 137.8h0M1391.2 176.1h0M1472.9 154.9h0M1403.5 198.3h0M1459.7 114.7h0M1455.1 146.8h0M1481.1 125.7h0M1413.4 154.6h0M1384.6 195h0M1470.5 103.2h0M1400.2 192.1h0M1432.1 162h0M1382.4 194.9h0M1405.8 178.9h0M1384.5 199.1h0M1411.9 153.4h0M1429.5 144.6h0M1472.9 136.1h0M1453.8 145h0M1401.2 181h0M1389.5 180.9h0M1467 123.1h0M1470.1 144.2h0M1387.2 205.1h0M1399.5 190.7h0M1462 106.4h0M1444.4 140.5h0M1468.4 138.7h0M1446.1 104h0M1488.5 120.5h0M1429.8 131.2h0M1423.3 165.6h0M1439.2 121h0M1476.4 108.5h0M1454.5 167.3h0M1452.3 118.3h0M1449.9 130.1h0M1430 138.2h0M1462.2 121.4h0M1378.8 211.6h0M1447.9 156.6h0M1440.6 132h0M1427.2 149.4h0M1422.6 138.6h0M1480.3 148.9h0M1447.5 116.5h0M1420.2 128.1h0M1390.4 181h0M1474.7 116.5h0M1395.1 189.7h0M1465.3 113.3h0M1452.9 97.6h0M1453.5 138.4h0M1456.8 145.7h0M1399.1 180.6h0M1482 118.4h0M1404.2 178.2h0M1439.5 144.3h0M1465.9 156.4h0M1447.9 145.2h0M1459.9 106.8h0M1447.7 109.5h0M1444.9 117.7h0M1456.8 165.5h0M1480.3 130h0M1428 150.3h0M1471.5 147h0M1444.4 152h0M1407.5 186.5h0M1432.6 151.9h0M1463.2 126.2h0M1450.3 124.2h0M1432.1 163h0M1389.2 195.1h0M1424.4 129.8h0M1424.9 154.4h0M1458.1 120h0M1445.3 110.1h0M1467.5 147.6h0M1488 144.2h0M1417.7 186.9h0M1447.5 121.6h0M1448.3 120.9h0M1412.1 158.8h0M1440.2 147.1h0M1413.7 185.9h0M1397.7 188.7h0M1480.3 124.8h0M1485.8 144.4h0M1426.4 165.4h0M1459 136.2h0M1395.6 158.9h0M1398.4 163.3h0M1418.8 173h0M1415.7 149.9h0M1399.7 186.3h0M1438.7 105.8h0M1447.4 152.3h0M1479.3 127h0M1459.7 136.5h0M1491 143.4h0M1449.6 113.6h0M1453.1 134h0M1398.9 167.7h0M1474.3 118.8h0M1440.2 150.3h0M1474.5 114h0M1460.5 111.3h0M1458.4 106.8h0M1456.4 138.1h0M1481.3 147.8h0M1404 167.7h0M1457.5 99h0M1439.4 114.2h0M1458.4 98.6h0M1417.1 170.5h0M1482 132h0M1462.3 151h0M1391.2 200.4h0M1383.3 213.6h0M1475.1 147.3h0M1464.4 149.5h0M1469.1 151.8h0M1385.5 198.2h0M1454.6 125.5h0M1419.7 178.9h0M1423 155.5h0M1445.2 104.7h0M1469.3 142.6h0M1457 148.7h0M1400.1 165.7h0M1451 144.4h0M1408.7 172.7h0M1471.1 137.8h0M1442.4 159.2h0M1437.6 138.8h0M1469.1 140.3h0M1452.3 123.5h0M1395.2 180.7h0M1447.6 139.7h0M1450.1 124.5h0M1427.3 155.3h0M1449.9 140.2h0M1414.7 179h0M1483.7 144h0M1470.4 102.6h0M1480.8 114.3h0M1460.2 117.4h0M1447.4 134h0M1482.3 137.7h0M1427.4 147.3h0M1437.4 132.3h0M1411.4 153.7h0M1407.1 153.8h0M1417.9 165.7h0M1472.2 118.5h0M1458.3 159.2h0M1453.6 123.3h0M1459.3 155.2h0M1450.8 103.5h0M1465.6 158.3h0M1388.4 219.6h0M1437.3 132.1h0M1385.2 197.3h0M1471.3 148.1h0M1388.2 214.1h0M1462.4 154.5h0M1411.9 140.2h0M1393.3 166.4h0M1442.4 125.1h0M1437.8 114.1h0M1457.5 152h0M1469 141.3h0M1468.9 133.3h0M1430.8 146.5h0M1465.5 103h0M1441.2 149.1h0M1491.2 124.8h0M1417.8 137.7h0M1416.3 142.2h0M1456.6 125.1h0M1400.1 204.1h0M1391.8 209.6h0M1394.5 194.8h0M1471.8 115.3h0M1410.5 184h0M1458 139.9h0M1396.6 177.3h0M1452.4 151.4h0M1438 156.5h0M1394.8 174.3h0M1470.3 129.2h0M1387.8 176.5h0M1475.5 131.8h0M1425.6 136.2h0M1458.5 124.9h0M1450.5 166.2h0M1437.8 149h0M1398 175.3h0M1448.5 107.8h0M1460.2 115.8h0M1413.5 144h0M1415.6 174h0M1469.6 123.7h0M1427.9 130.4h0M1423.4 175.3h0M1408.9 152.9h0M1407.9 186.1h0M1427.6 133.5h0M1434.4 147.6h0M1463.1 137.3h0M1421.8 134.7h0M1463.3 125.5h0M1408 153.4h0M1387.3 216.4h0M1394.1 195.7h0M1468.3 139.8h0M1435.4 147.8h0M1424.2 176.4h0M1400.3 174.7h0M1442.7 115.3h0M1446.1 102.7h0M1461.2 164.9h0M1448.5 138.3h0M1397.7 192.4h0M1473.4 118h0M1420 165.9h0M1446.9 139.7h0M1464.9 149.3h0M1485.1 151.4h0M1437.5 131.4h0M1427.1 148.8h0M1421 165.6h0M1382.4 207h0M1439 123.3h0M1391.4 192.8h0M1461.5 147.8h0M1416.8 144.1h0M1396.7 191.4h0M1483.7 142h0M1384.7 190.2h0M1479.9 135.1h0M1381.8 207.7h0M1470.7 122.1h0M1453.2 139.9h0M1420.7 151.1h0M1466.1 111.9h0M1466.4 107.5h0M1453.7 129.3h0M1417.6 142.5h0M1434.1 145.7h0M1477.2 109.3h0M1416.4 140.8h0M1396.9 162.9h0M1448.2 114.3h0M1460 152.6h0M1397.5 172.9h0M1398.2 204.6h0M1406.6 193.1h0M1447.1 138.2h0M1481.2 138.8h0M1396.4 184.3h0M1390 207.5h0M1475.5 133.1h0M1427.5 142.1h0M1405.8 191.2h0M1404.2 193.5h0M1433.3 140.1h0M1479.5 143.8h0M1454.3 133.6h0M1389.5 202.1h0M1454.9 146.5h0M1462.5 102.6h0M1378.5 208.9h0M1377.6 203.2h0M1412.7 152.4h0M1455.9 126.8h0M1416.5 159.7h0M1461.3 133.6h0M1403.2 200.4h0M1422.9 144h0M1445.6 150.5h0M1395.9 208.7h0M1458.1 161.1h0M1423 133.9h0M1384.9 204.2h0M1477.8 134.8h0M1481.8 126.5h0M1446.2 146.8h0M1412.9 173.7h0M1425.1 136.2h0M1442 153h0M1447.7 108.8h0M1405 188.8h0M1426.2 149.2h0M1473.1 125.7h0M1479.2 114.4h0M1472.6 128h0M1422.9 151.9h0M1429.2 131.6h0M1477.5 141.9h0M1396.6 172.6h0M1461.3 136.9h0" stroke="#0d0887" stroke-width="8" stroke-linecap="round" fill="none"/>
<defs><linearGradient id="pl" x1="0" x2="1" y1="0" y2="0"><stop offset="0.00" stop-color="#0d0887"/><stop offset="0.05" stop-color="#2a0593"/><stop offset="0.10" stop-color="#41049d"/><stop offset="0.15" stop-color="#5601a4"/><stop offset="0.20" stop-color="#6a00a8"/><stop offset="0.25" stop-color="#7e03a8"/><stop offset="0.30" stop-color="#8f0da4"/><stop offset="0.35" stop-color="#a11b9b"/><stop offset="0.40" stop-color="#b12a90"/><stop offset="0.45" stop-color="#bf3984"/><stop offset="0.50" stop-color="#cc4778"/><stop offset="0.55" stop-color="#d6556d"/><stop offset="0.60" stop-color="#e16462"/><stop offset="0.65" stop-color="#ea7457"/><stop offset="0.70" stop-color="#f2844b"/><stop offset="0.75" stop-color="#f89540"/><stop offset="0.80" stop-color="#fca636"/><stop offset="0.85" stop-color="#feba2c"/><stop offset="0.90" stop-color="#fcce25"/><stop offset="0.95" stop-color="#f7e425"/><stop offset="1.00" stop-color="#f0f921"/></linearGradient></defs>
<rect x="1410.5" y="301.7" width="109.1" height="10.3" fill="url(#pl)" stroke="#000" stroke-width="2.67"/>
<path d="M1425.5 301.7V290.2M1462.25 301.7V290.2M1499 301.7V290.2" stroke="#000" stroke-width="2.67" fill="none"/>
<path d="M1410.88 301.7V294.8M1414.44 301.7V294.8M1417.35 301.7V294.8M1419.81 301.7V294.8M1421.94 301.7V294.8M1423.82 301.7V294.8M1436.56 301.7V294.8M1443.03 301.7V294.8M1447.63 301.7V294.8M1451.19 301.7V294.8M1454.1 301.7V294.8M1456.56 301.7V294.8M1458.69 301.7V294.8M1460.57 301.7V294.8M1473.31 301.7V294.8M1479.78 301.7V294.8M1484.38 301.7V294.8M1487.94 301.7V294.8M1490.85 301.7V294.8M1493.31 301.7V294.8M1495.44 301.7V294.8M1497.32 301.7V294.8M1510.06 301.7V294.8M1516.53 301.7V294.8" stroke="#000" stroke-width="2" fill="none"/>
<text transform="translate(1425.2 283.5) rotate(0.03)" font-size="19.4" text-anchor="middle">10<tspan dy="-7.3" font-size="13.6">1</tspan></text>
<text transform="translate(1461.95 283.5) rotate(0.03)" font-size="19.4" text-anchor="middle">10<tspan dy="-7.3" font-size="13.6">2</tspan></text>
<text transform="translate(1498.7 283.5) rotate(0.03)" font-size="19.4" text-anchor="middle">10<tspan dy="-7.3" font-size="13.6">3</tspan></text>
<path d="M1261.3 142.9H1534M1450.1 57.4V322.4" stroke="#000" stroke-opacity="0.47" stroke-width="3.4" fill="none"/>
<path d="M1435.7 118.3h0M1413.5 157.7h0M1416.4 190.1h0M1481.4 147.5h0" stroke="#260591" stroke-width="3.8" stroke-linecap="round" fill="none"/>
<path d="M1390.5 217.8h0M1386.4 215.9h0M1450.2 160.2h0M1382.5 204.6h0M1473.5 137.5h0M1454.6 110.2h0M1469.5 147.7h0M1421.7 150.4h0M1477.8 137.6h0M1476.6 128.1h0M1470.2 154.1h0M1472 126.2h0M1442.4 112.2h0M1461.4 121.4h0M1429.5 134.3h0M1381.5 211.6h0M1422.2 148.1h0M1403.8 204.3h0M1451.9 160h0M1407.9 172.2h0M1470 114h0M1456 156h0M1472.1 138.3h0M1385.6 213.7h0M1475.6 125.7h0M1461.7 109.7h0M1471.4 152.4h0M1381.8 213.6h0M1459.9 117.9h0M1466 116.6h0M1388.4 191.6h0M1432.5 171.7h0M1412 168.2h0M1459.7 153.5h0M1422.3 135.5h0M1384.4 195.8h0M1444.5 110.5h0M1477.6 130.6h0M1437.9 114h0M1388.6 207.6h0M1453.9 114h0M1476.3 115.5h0M1467.8 150.5h0M1470.1 149.6h0M1472.3 122.1h0M1441.7 162.5h0M1423.7 181.8h0M1457.8 119.6h0M1394.2 216.2h0M1460.3 116h0M1410.3 163.5h0M1450.1 116.6h0M1437.5 117.9h0M1428.3 132.5h0M1385.7 194.6h0M1472.4 133.7h0M1446.6 158.2h0M1399.6 178h0M1390.4 214.1h0M1381.4 200.6h0M1442 110.4h0M1473.8 126h0M1465.6 119.5h0M1459.6 157.4h0M1403.6 174.3h0M1424.6 133.5h0M1410.1 166.3h0M1423.9 132.6h0M1379.6 207.9h0M1381.6 208.1h0M1414.1 192.5h0" stroke="#3a049a" stroke-width="3.8" stroke-linecap="round" fill="none"/>
<path d="M1434.4 168.6h0M1412.1 162h0M1461.8 125.6h0M1398.5 188.2h0M1445.4 154h0M1434.4 169.5h0M1394.2 194h0M1466 141.9h0M1466.2 121.5h0M1429.4 131.9h0M1446.5 117.7h0M1462.6 131.5h0M1401.6 199.7h0M1440 162.1h0M1408.5 169.7h0M1432.1 134.2h0M1396.5 187.9h0M1388.2 212.1h0M1472.4 127.6h0M1430.5 138h0M1467.9 142.2h0M1442 118h0M1417.5 157.9h0M1391.5 198.2h0M1390.4 210.4h0M1414.5 167.5h0M1452.3 154.1h0M1427.4 150h0M1387.8 194h0M1380.3 213.9h0M1413.5 163.5h0M1470.3 152h0M1395.9 205.9h0M1459.8 124.3h0M1457.5 154.1h0M1425.6 137.5h0M1468.1 144.2h0M1404 196.4h0M1406.1 183.7h0M1394.4 184.6h0M1430.5 150.2h0M1429.6 173.8h0M1443.8 116.4h0M1406.6 198.6h0M1464 137.9h0M1449.8 156.5h0M1453.6 154.4h0M1396 191.8h0M1433.5 132.5h0M1394.6 203.7h0M1462.3 147.6h0M1426 178.5h0M1469.5 142.4h0M1468.1 134.5h0M1389.8 203.7h0M1454.2 158.2h0M1410.2 170h0M1391.4 196.5h0M1392 210.4h0" stroke="#4c02a1" stroke-width="3.8" stroke-linecap="round" fill="none"/>
<path d="M1400.2 198.4h0M1398.2 192.2h0M1422 156.6h0M1466.2 131.5h0M1409.6 177.4h0M1415.8 169.9h0M1407.6 194h0M1424.5 177.7h0M1429.8 146.2h0M1415.9 162.6h0M1415.5 187.8h0M1468 136.2h0M1449.9 152h0M1436.6 124.1h0M1420.2 161.9h0M1407.7 178.1h0M1431.5 141.4h0M1451.9 157.5h0M1424.4 155.9h0M1455.9 151.7h0M1466.6 135.6h0M1399.9 193.8h0M1466 146.4h0M1397.8 194.2h0M1426.2 155.8h0M1429.9 141.9h0M1413.6 188h0M1396.2 196.4h0M1451.8 152.3h0M1466 144.2h0M1406.1 194.3h0" stroke="#5c01a6" stroke-width="3.8" stroke-linecap="round" fill="none"/>
<path d="M1427.5 157.6h0M1412.3 173.7h0M1415.6 184h0M1415.8 179.8h0M1411.6 185.8h0M1411.6 184.4h0M1435.6 145.6h0M1451.6 121.5h0M1402.2 192.4h0M1422.1 158.3h0M1405.6 187.9h0M1408.6 185.8h0M1418.2 182.4h0M1438.3 126.1h0M1453.9 128h0M1440.3 122.2h0M1412.5 189.8h0M1406.2 191.5h0M1420.4 178.1h0M1417.5 167.9h0M1421.4 164h0M1433.5 166.5h0" stroke="#6e00a8" stroke-width="3.8" stroke-linecap="round" fill="none"/>
<path d="M1459.6 133.9h0M1449.6 123.8h0M1461.4 141.4h0M1403.9 188.2h0M1413.9 182.2h0M1417.8 178.6h0M1426.4 173.5h0M1444.5 125.4h0M1444.1 122.6h0M1407.8 190.3h0M1434 148.3h0M1421.7 166.3h0M1418 172.5h0M1414.5 183.6h0M1442 126.4h0M1445.9 124.1h0M1422.5 160.3h0M1407.6 187.7h0M1433.5 137.5h0M1416 172.3h0M1411.5 182.1h0" stroke="#7e03a8" stroke-width="3.8" stroke-linecap="round" fill="none"/>
<path d="M1441.6 156.3h0M1434.3 163.4h0M1460.3 138.3h0M1436.3 149.8h0M1426 169.6h0M1424.5 173.9h0M1458 131.8h0M1442.3 127.6h0" stroke="#8d0ba5" stroke-width="3.8" stroke-linecap="round" fill="none"/>
<path d="M1438.2 131.5h0M1437.4 148.1h0M1430.3 158.3h0M1435.5 136.4h0M1433.8 158.5h0M1433.9 159.8h0M1428 166.5h0M1433.4 162h0" stroke="#9c179e" stroke-width="3.8" stroke-linecap="round" fill="none"/>
<path d="M1457.4 136.2h0M1431.5 157.7h0" stroke="#aa2395" stroke-width="3.8" stroke-linecap="round" fill="none"/>
<path d="M1438 151.8h0M1439.7 148.1h0M1453.4 148.4h0M1457.6 138.6h0M1438 146.3h0" stroke="#b52f8c" stroke-width="3.8" stroke-linecap="round" fill="none"/>
<path d="M1444.1 132.2h0" stroke="#c13b82" stroke-width="3.8" stroke-linecap="round" fill="none"/>
<path d="M1451.8 137.9h0M1441.8 148.3h0M1447.8 131.9h0M1455.7 137.8h0M1451.8 132.2h0" stroke="#cc4778" stroke-width="3.8" stroke-linecap="round" fill="none"/>
<path d="M1442.3 137.8h0M1450.1 132.1h0M1450.4 136.4h0M1439.8 143.9h0M1441.5 136.3h0M1450.2 133.7h0M1446.6 138.3h0" stroke="#d5536f" stroke-width="3.8" stroke-linecap="round" fill="none"/>
<path d="M1450.1 139.5h0M1451.9 146.6h0M1444 135.4h0" stroke="#de5f65" stroke-width="3.8" stroke-linecap="round" fill="none"/>
<path d="M1445.5 140h0M1444.2 148.1h0" stroke="#f3874a" stroke-width="3.8" stroke-linecap="round" fill="none"/>
<path d="M1445.7 148.1h0" stroke="#fca338" stroke-width="3.8" stroke-linecap="round" fill="none"/>
<path d="M1449.7 144.5h0" stroke="#fdb42f" stroke-width="3.8" stroke-linecap="round" fill="none"/>
<path d="M1476.1 143.5h0M1396.1 212.1h0M1417.8 155.6h0M1386.1 204.5h0M1421.7 133.6h0M1411.9 159.5h0" stroke="#260591" stroke-width="3.8" stroke-linecap="round" fill="none"/>
<path d="M1398.4 185.5h0M1484 147.5h0M1462.3 150.2h0M1458.3 122.2h0M1464.3 111.8h0M1394.1 188h0M1383.5 206.2h0M1438.4 115.8h0M1391.8 215.5h0M1433.9 118.1h0M1391.9 212h0M1472.1 118.2h0M1464.2 152.2h0M1426.4 126.3h0M1423.5 147.8h0M1478.1 134.6h0M1478.1 143.8h0M1446.2 159.8h0M1476.2 136.3h0M1397.4 179.6h0M1430.3 123.6h0M1419.8 155.8h0M1414.4 159.8h0M1411.7 196.6h0M1469.8 122.4h0M1470.2 115.9h0M1386.6 210.3h0M1468.5 147.6h0M1445.7 109.6h0M1475.6 140.6h0M1458.5 155.5h0M1432.2 118.3h0M1451.7 106.2h0M1453.8 117.6h0M1387.6 217.8h0M1463.6 108.2h0M1466 158h0M1387.7 204.4h0M1444.3 160.4h0M1476.1 134.1h0M1432 123.6h0M1427.9 134.2h0M1464 113.5h0M1468.5 114h0M1422.3 130h0M1468.5 155.5h0M1450.1 111.9h0M1460.2 113.7h0M1469.7 124.3h0M1427.9 124.2h0M1384.1 207.4h0M1459.8 120.2h0M1461.9 158.5h0M1448 115.5h0M1467.6 159.8h0M1464.2 117.8h0M1466.5 151.5h0M1397.7 181.9h0M1468.6 123.4h0M1476.1 138.5h0M1457.9 110.5h0M1468.3 140.4h0M1426.1 135.9h0M1409.8 197.8h0M1462.2 153.7h0M1461.9 111.9h0M1405.8 201.7h0M1424.1 144.4h0" stroke="#3a049a" stroke-width="3.8" stroke-linecap="round" fill="none"/>
<path d="M1457.7 151.7h0M1414.4 190.4h0M1440.5 116h0M1450.4 154.4h0M1390.4 201.8h0M1388.5 195.5h0M1451.7 118.2h0M1468.1 121.9h0M1456.1 121.9h0M1440.5 118.2h0M1390.2 208.6h0M1433.5 130h0M1395.8 194.3h0M1471.6 135.6h0M1435.9 167.8h0M1386.5 208.4h0M1398.4 205.7h0M1390.5 205.8h0M1404.2 199.6h0M1408.2 199.5h0M1464.1 121.6h0M1438.1 120.1h0M1426 140.6h0M1453.6 122.3h0M1399.8 184.2h0M1418.4 187.7h0M1464 120h0M1458 123.6h0M1464.4 132.2h0M1431.9 127.4h0M1402.1 180.4h0M1423.9 153.7h0M1409.4 172.5h0M1393.6 198h0M1385.9 217.8h0M1408.1 198.2h0M1469.5 119.8h0M1443.6 114.3h0M1395.8 184.4h0M1394.4 196.5h0M1407.6 196.2h0M1416 157.4h0M1388.4 214.3h0M1404.1 183.5h0M1448.3 113.9h0M1468.2 116.1h0M1476 129.5h0M1391.6 214.6h0M1390.5 199.5h0M1455.6 153.5h0M1438.2 163.6h0M1420.1 153.7h0M1474.4 134.4h0M1470.6 137.7h0" stroke="#4c02a1" stroke-width="3.8" stroke-linecap="round" fill="none"/>
<path d="M1468.3 126.5h0M1416.2 165.7h0M1428.1 140.4h0M1430.1 144.4h0M1436.2 128.4h0M1435.7 130.1h0M1462.3 143.5h0M1401.7 193.6h0M1456 123.9h0M1456.1 127.7h0M1464.5 145.6h0M1400 195.5h0M1466.2 147.8h0M1396.2 199.6h0M1427.5 175.6h0M1458.2 149.5h0M1433.4 145.4h0M1400.5 192.5h0M1456 150.4h0M1450.4 119.9h0M1462.4 130.6h0M1438.1 122.5h0M1458.4 115.9h0M1399.7 206.3h0M1398 189.6h0M1418.6 164.4h0M1407.9 176.1h0M1435.6 165.8h0M1401.5 196.6h0M1397.7 198.3h0" stroke="#5c01a6" stroke-width="3.8" stroke-linecap="round" fill="none"/>
<path d="M1461.8 139.8h0M1412.3 176.2h0M1454.4 126h0M1440.5 159.5h0M1425.7 163.5h0M1411.6 191.7h0M1401.7 188.1h0M1449.8 121.8h0M1408.3 184.1h0M1422 179.5h0M1464.4 130.2h0M1440.1 123.8h0M1416.5 186.5h0M1414 186h0M1416.4 174.3h0M1432.5 140.4h0M1426.5 158.4h0M1444.4 120.5h0M1404.2 191.6h0M1420.4 159.8h0M1400.4 189.7h0M1404.4 189.9h0M1410.5 184.5h0M1418.4 169.6h0M1419.4 167.4h0M1399.6 200.6h0M1410.3 175.7h0M1422.2 161.5h0" stroke="#6e00a8" stroke-width="3.8" stroke-linecap="round" fill="none"/>
<path d="M1438 130h0M1443.7 124.2h0M1423.8 159.5h0M1426 161.8h0M1453.5 149.8h0M1405.8 186h0M1434.5 141.8h0M1438.3 128.3h0M1422.1 178.3h0M1416.1 181.6h0M1433.7 149.6h0M1432.1 168.1h0" stroke="#7e03a8" stroke-width="3.8" stroke-linecap="round" fill="none"/>
<path d="M1425.9 168.3h0M1443.6 154.5h0M1436.4 143.8h0M1436.3 132.5h0M1426 166.6h0M1432.4 163.8h0M1454.6 129.4h0M1458.5 145.5h0M1424.4 168.4h0M1433.6 151.7h0M1435.6 142h0" stroke="#8d0ba5" stroke-width="3.8" stroke-linecap="round" fill="none"/>
<path d="M1429.7 165.8h0M1436.4 133.8h0M1459.6 139.8h0M1431.7 155.8h0M1437.8 157.6h0M1431.8 160.1h0M1449.4 149.6h0M1432.2 153.7h0" stroke="#9c179e" stroke-width="3.8" stroke-linecap="round" fill="none"/>
<path d="M1439.5 131.9h0M1456 145.8h0M1439.6 155.5h0M1436.1 152.5h0M1438.2 134.5h0" stroke="#aa2395" stroke-width="3.8" stroke-linecap="round" fill="none"/>
<path d="M1455.8 144.3h0M1440.5 150.5h0M1450.5 130.4h0M1442.3 130.2h0M1439.9 151.5h0M1437.7 140.3h0" stroke="#b52f8c" stroke-width="3.8" stroke-linecap="round" fill="none"/>
<path d="M1444.5 150.2h0M1448.4 130.1h0M1446.4 130.5h0M1438.3 144.4h0M1440 153.5h0M1442 150.3h0" stroke="#c13b82" stroke-width="3.8" stroke-linecap="round" fill="none"/>
<path d="M1454 138.3h0M1448.2 136.5h0M1450.3 137.9h0M1454 145.7h0M1451.4 136.3h0M1440.1 133.7h0" stroke="#cc4778" stroke-width="3.8" stroke-linecap="round" fill="none"/>
<path d="M1452.2 139.7h0M1446.2 135.6h0M1440.1 138.1h0M1439.8 139.7h0" stroke="#d5536f" stroke-width="3.8" stroke-linecap="round" fill="none"/>
<path d="M1443.7 134.4h0M1442.4 133.5h0M1451.8 143.5h0" stroke="#de5f65" stroke-width="3.8" stroke-linecap="round" fill="none"/>
<path d="M1447.7 140h0" stroke="#ed7953" stroke-width="3.8" stroke-linecap="round" fill="none"/>
<path d="M1443.7 146.4h0" stroke="#fdc527" stroke-width="3.8" stroke-linecap="round" fill="none"/>
<path d="M1445.5 144.1h0" stroke="#f6e826" stroke-width="3.8" stroke-linecap="round" fill="none"/>
<path d="M1446.6 146.2h0" stroke="#f0f921" stroke-width="3.8" stroke-linecap="round" fill="none"/>
<path d="M1474.4 147.9h0M1399.8 176.2h0" stroke="#260591" stroke-width="3.8" stroke-linecap="round" fill="none"/>
<path d="M1423.5 149.6h0M1382.1 206.3h0M1476.6 124.2h0M1471.6 123.5h0M1455.6 109.6h0M1418.1 160.3h0M1461.6 123.9h0M1480.1 148.2h0M1471.8 114.2h0M1460 109.7h0M1451.7 114.5h0M1391.9 208.5h0M1405.9 172.3h0M1475.4 122h0M1439.9 164.4h0M1408 167.8h0M1477.7 140.2h0M1470.4 129.6h0M1440.3 110.4h0M1463.5 153.6h0M1459.8 155.5h0M1388.1 209.6h0M1467.9 112h0M1472.1 150.5h0M1384.1 214.3h0M1436.1 116.1h0M1379.9 204.1h0M1400.2 203.7h0M1465.9 118.4h0M1473.8 131.4h0M1422.1 182.5h0M1470.1 131.6h0M1474.3 124.6h0M1462.6 114.2h0M1384.2 210.1h0M1468.2 108.3h0M1390.4 198.4h0M1469.7 143.8h0M1449.6 113.7h0M1423.8 128.1h0M1470.6 140.2h0M1478.1 125.6h0M1392.1 189.5h0M1474.5 130.4h0M1386.5 206.4h0M1402.2 201.7h0M1412 164.3h0M1476.5 132.1h0M1466 156.1h0M1425.4 141.9h0M1477.8 141.7h0M1456.3 116.3h0M1476.1 142.2h0M1403.6 201.5h0M1482.3 134.5h0M1394 211.5h0M1468.3 154.4h0M1458.6 118h0M1474.2 140h0M1405.6 173.6h0M1387.6 199.4h0M1466.5 149.7h0M1479.8 129.6h0M1471.4 141.5h0M1431.7 125.4h0M1428.3 138.6h0M1433.9 121.4h0M1432.5 121.9h0M1390.6 215.8h0M1472 153.6h0M1427.7 121.4h0M1453.8 112.4h0M1462.2 152h0" stroke="#3a049a" stroke-width="3.8" stroke-linecap="round" fill="none"/>
<path d="M1410.4 193.7h0M1472.4 144.4h0M1430.4 126.1h0M1421.7 154.6h0M1407.4 182.2h0M1392.6 191.7h0M1472 147.5h0M1410.6 196.3h0M1430.3 129.9h0M1420.3 183.8h0M1445.7 112.4h0M1419.9 157.5h0M1455.6 157.9h0M1431.9 135.9h0M1450.5 118.1h0M1454.4 123.6h0M1443.6 161.5h0M1461.5 118.5h0M1401.8 203.8h0M1412 193.8h0M1413.8 171.9h0M1423.9 179.5h0M1458.1 113.4h0M1467.9 146.2h0M1454.1 116.3h0M1446.3 114.6h0M1429.5 140.4h0M1458.4 125.8h0M1415.6 168.3h0M1406.6 175.5h0M1443.5 117.5h0M1400.4 202.3h0M1456 113.5h0M1460.6 150.4h0M1455.6 117.8h0M1448.1 117.7h0M1471.9 139.6h0M1430 136.3h0M1383.7 212.5h0M1394 189.5h0M1414.4 161.6h0M1391.9 204.6h0M1393.6 206.3h0M1429.5 148.5h0M1420.5 150.6h0M1400 185.8h0M1397.8 183.7h0" stroke="#4c02a1" stroke-width="3.8" stroke-linecap="round" fill="none"/>
<path d="M1396.5 189.6h0M1402 197.5h0M1417.6 166.2h0M1433.6 133.6h0M1400.4 187.8h0M1419.9 164.1h0M1433.9 143.7h0M1428.6 148.3h0M1437.7 162.4h0M1426.3 152.2h0M1459.7 127.5h0M1395.4 198.5h0M1426.2 176.6h0M1439.4 120.5h0M1455.5 126.3h0M1432.5 148.5h0M1427.8 174.2h0M1431.6 151.6h0M1453.6 151.7h0M1394.4 199.6h0M1395.6 202h0M1406.2 196h0M1393.5 202.2h0M1463.4 140.1h0M1441.8 120.5h0M1464.6 136.4h0M1430.3 151.7h0M1464.3 123.7h0M1409.5 185.9h0M1396.2 204.3h0M1466.6 134.1h0M1412.1 169.8h0M1464 144.5h0M1391.4 200.3h0M1462.5 138h0M1430.4 171.5h0M1417.7 185.6h0M1462 128.1h0" stroke="#5c01a6" stroke-width="3.8" stroke-linecap="round" fill="none"/>
<path d="M1441.9 122h0M1428.1 172.5h0M1416 177.9h0M1410 191.5h0M1412.6 179.5h0M1447.7 120.2h0M1416.1 176.1h0M1405.9 189.6h0M1458.3 130h0M1451.8 126.3h0M1410 188.2h0M1414.5 173.7h0M1422 174.4h0M1412.3 187.8h0M1426.2 159.7h0M1460.4 144.3h0M1420.1 165.9h0M1401.7 189.8h0M1403.4 182.6h0M1411.6 178.3h0M1418.2 184.4h0M1409.6 179.5h0M1410.1 189.6h0M1459.7 145.8h0M1436 125.8h0M1419.7 176.4h0M1411.5 171.5h0" stroke="#6e00a8" stroke-width="3.8" stroke-linecap="round" fill="none"/>
<path d="M1417.9 180.4h0M1449.6 126.2h0M1424.6 165.8h0M1413.5 180h0M1430.4 168.4h0M1420.5 173.9h0M1439.4 158.6h0M1420 171.7h0M1424 175.7h0M1410.6 182.5h0M1433.4 139.6h0M1448.3 123.5h0M1436.2 161.8h0" stroke="#7e03a8" stroke-width="3.8" stroke-linecap="round" fill="none"/>
<path d="M1438.4 159.6h0M1432.4 162.6h0M1458.5 133.8h0M1427.4 164.3h0M1448.2 126.1h0M1460.5 136h0M1427.8 170.1h0M1431.9 165.7h0M1422.5 171.6h0M1417.5 174.1h0" stroke="#8d0ba5" stroke-width="3.8" stroke-linecap="round" fill="none"/>
<path d="M1447.8 128h0M1435.5 139.7h0M1424.1 172.5h0M1455.4 147.5h0M1435.5 138.5h0" stroke="#9c179e" stroke-width="3.8" stroke-linecap="round" fill="none"/>
<path d="M1436.2 154.6h0M1434.2 156.5h0M1452 130.2h0M1442 151.5h0M1455.6 132.5h0M1458.5 141.8h0M1438.5 154.4h0M1442.5 154.1h0" stroke="#aa2395" stroke-width="3.8" stroke-linecap="round" fill="none"/>
<path d="M1444.2 129.7h0M1456.4 139.8h0M1456.1 136.5h0M1458 139.5h0" stroke="#b52f8c" stroke-width="3.8" stroke-linecap="round" fill="none"/>
<path d="M1454 140.2h0M1437.9 136.5h0M1455.7 141.5h0" stroke="#c13b82" stroke-width="3.8" stroke-linecap="round" fill="none"/>
<path d="M1446.5 133.6h0M1447.5 133.5h0M1453.5 142.2h0" stroke="#cc4778" stroke-width="3.8" stroke-linecap="round" fill="none"/>
<path d="M1452 134.2h0M1444.6 137.5h0M1440.5 135.7h0M1448.3 138.2h0M1440.4 146.2h0M1454 136.3h0" stroke="#d5536f" stroke-width="3.8" stroke-linecap="round" fill="none"/>
<path d="M1452.4 142.3h0" stroke="#de5f65" stroke-width="3.8" stroke-linecap="round" fill="none"/>
<path d="M1441.6 142.4h0M1450 147.5h0M1441.5 146.1h0" stroke="#e66c5c" stroke-width="3.8" stroke-linecap="round" fill="none"/>
<path d="M1449.5 141.5h0M1450.4 146.6h0M1444.5 140.2h0" stroke="#ed7953" stroke-width="3.8" stroke-linecap="round" fill="none"/>
<path d="M1442.4 143.7h0" stroke="#f3874a" stroke-width="3.8" stroke-linecap="round" fill="none"/>
<path d="M1448.3 145.8h0M1444.3 144.3h0" stroke="#f6e826" stroke-width="3.8" stroke-linecap="round" fill="none"/>
<path d="M1447.5 144.3h0" stroke="#f0f921" stroke-width="3.8" stroke-linecap="round" fill="none"/>
<path d="M1482.2 145.9h0M1477.4 148.1h0" stroke="#260591" stroke-width="3.8" stroke-linecap="round" fill="none"/>
<path d="M1480.4 131.4h0M1471.6 119.7h0M1445.5 116h0M1471.5 115.9h0M1406.2 170.1h0M1388.4 197.9h0M1477.6 132.2h0M1466.3 159.6h0M1474.5 135.5h0M1427.6 127.9h0M1423.8 140.3h0M1419.6 152.2h0M1399.5 179.9h0M1458.3 157.4h0M1428 135.4h0M1471.8 145.9h0M1428 125.5h0M1392.6 188.1h0M1408.5 166h0M1447.7 156.4h0M1425.7 133.9h0M1448.1 159.7h0M1461.7 162.1h0M1464.1 149.8h0M1422.2 151.6h0M1397.8 208.6h0M1394.4 209.5h0M1387.7 206.2h0M1478.3 127.8h0M1425.6 145.6h0M1417.5 162h0M1473.5 128.2h0M1448 158h0M1396.4 186h0M1452.2 115.8h0M1386.1 211.9h0M1469.6 112.2h0M1418.3 152.1h0M1393.9 186.3h0M1423.5 142h0M1402.5 176h0M1415.5 160h0M1475.5 147.9h0M1435.8 114.3h0M1409.4 168.2h0M1435.5 119.7h0M1416.1 156.2h0M1402.5 178h0M1434.5 120.1h0M1430 121.5h0M1437.6 166.5h0M1432.3 129.4h0M1394 207.7h0M1387.5 219.7h0M1472.2 157.6h0M1392.4 193.7h0M1474.5 143.7h0M1392.4 185.4h0M1401.4 206.4h0M1396 210.2h0M1464.6 116.3h0M1424.2 145.9h0M1403.9 178.1h0M1403.5 176.4h0M1384.2 204h0M1425.9 147.5h0M1456.1 159.9h0M1434.3 113.7h0M1470.2 146h0" stroke="#3a049a" stroke-width="3.8" stroke-linecap="round" fill="none"/>
<path d="M1446.4 155.6h0M1467.8 131.6h0M1426.4 150h0M1405.8 180h0M1468 151.6h0M1423.4 152.2h0M1413.8 166.4h0M1434.1 124h0M1412.4 166.2h0M1443.7 112.2h0M1428.5 146.1h0M1389.5 211.6h0M1430 127.5h0M1436 122.2h0M1462.5 119.8h0M1408.4 173.5h0M1442 113.5h0M1470.4 126.3h0M1467.7 128.5h0M1463.8 134.1h0M1414.2 169.9h0M1441.6 160.4h0M1469.9 136.1h0M1464 142h0M1390.2 196.4h0M1454.5 119.4h0M1447.4 153.8h0M1416.4 163.9h0M1469.6 118.6h0M1465.9 137.7h0M1390.5 194.2h0M1427.7 141.4h0M1466.3 126.1h0M1463.6 155.5h0M1396.4 208.3h0M1444 157.8h0M1383.4 215.5h0M1425.6 153.6h0M1472.2 130.4h0M1432 170.5h0M1459.6 121.5h0M1452.3 156.1h0M1470.5 134h0M1466.1 139.8h0M1449.5 157.5h0M1470.6 127.8h0M1465.5 123.4h0M1406.4 200.1h0M1391.9 201.9h0M1468.6 130.4h0M1468.2 119.8h0M1471.7 132.5h0M1425.5 143.8h0M1433.6 128.3h0M1394.5 192.2h0M1451.7 119.4h0M1387.6 215.4h0M1433.6 125.5h0M1454.3 155.9h0M1442.2 116.3h0M1419.7 185.4h0M1467.6 138.1h0M1456.2 120.4h0M1400.1 181.5h0M1462.4 145.5h0M1459.4 152.2h0M1473.4 142.1h0" stroke="#4c02a1" stroke-width="3.8" stroke-linecap="round" fill="none"/>
<path d="M1432.3 137.9h0M1462 133.8h0M1444.2 155.7h0M1459.6 129.5h0M1424.4 161.9h0M1463.8 125.7h0M1428.2 143.7h0M1462.4 136.6h0M1398 202.5h0M1432.5 145.9h0M1464.5 147.7h0M1402.1 182.3h0M1448.1 152.1h0M1431.5 131.9h0M1403.7 180.4h0M1468.1 117.8h0M1404.4 193.9h0M1459.5 147.8h0M1466 128.3h0M1403.8 197.7h0M1397.9 204h0M1464.5 128.4h0M1392.3 205.9h0M1445.6 120.1h0M1398.3 195.7h0M1406.6 182.5h0M1458 128.5h0M1401.9 186.1h0M1402 183.9h0M1458.4 147.9h0M1405.7 178.1h0M1397.7 199.8h0M1436.5 163.9h0M1465.7 130.3h0M1407.5 192.2h0M1427.8 152h0M1432.3 144.1h0M1427.8 153.9h0M1423.7 158.3h0M1460.3 126.2h0" stroke="#5c01a6" stroke-width="3.8" stroke-linecap="round" fill="none"/>
<path d="M1446.4 121.6h0M1413.6 176.3h0M1427.8 156.3h0M1451.5 123.5h0M1447.6 122.3h0M1438.3 123.5h0M1407.4 179.9h0M1434 135.6h0M1424.6 163.4h0M1414.1 178.5h0M1409.5 174.4h0M1432.5 150h0M1460 132.5h0M1419.9 181.5h0M1403.8 186.4h0M1435.4 147.5h0" stroke="#6e00a8" stroke-width="3.8" stroke-linecap="round" fill="none"/>
<path d="M1421.7 175.8h0M1440.3 126h0M1440.1 127.5h0M1452.6 127.5h0M1427.9 161.5h0M1418.2 176.5h0M1426.3 171.5h0M1424.6 169.7h0M1430.5 154.5h0M1419.8 179.9h0M1429.8 155.7h0M1451.6 150.1h0M1442.1 123.7h0M1446.3 125.6h0M1456.5 129.8h0M1421.5 168.6h0M1429.8 169.4h0M1442.2 157.6h0M1419.7 170h0" stroke="#7e03a8" stroke-width="3.8" stroke-linecap="round" fill="none"/>
<path d="M1436.2 160h0M1428.1 160.4h0M1446.5 151.7h0M1422.2 169.8h0" stroke="#8d0ba5" stroke-width="3.8" stroke-linecap="round" fill="none"/>
<path d="M1450 128.2h0M1427.4 168.4h0M1459.6 142.4h0M1430.1 163.7h0M1440.5 129.6h0M1429.5 161.9h0" stroke="#9c179e" stroke-width="3.8" stroke-linecap="round" fill="none"/>
<path d="M1446.4 128.5h0M1444.5 151.8h0M1429.6 159.9h0M1436.5 157.7h0M1434.5 153.7h0M1458.5 143.8h0M1444.2 128.6h0M1448 150.5h0M1438.2 150.5h0M1438.5 156.4h0" stroke="#aa2395" stroke-width="3.8" stroke-linecap="round" fill="none"/>
<path d="M1441.4 131.5h0M1453.6 132.3h0M1454.5 134.1h0M1436.1 155.7h0" stroke="#b52f8c" stroke-width="3.8" stroke-linecap="round" fill="none"/>
<path d="M1455.6 134.5h0M1438.3 141.9h0M1446.3 150h0" stroke="#c13b82" stroke-width="3.8" stroke-linecap="round" fill="none"/>
<path d="M1452 148.3h0M1453.6 144h0M1446.1 132.1h0M1438.5 138.4h0" stroke="#cc4778" stroke-width="3.8" stroke-linecap="round" fill="none"/>
<path d="M1440.1 142.1h0" stroke="#d5536f" stroke-width="3.8" stroke-linecap="round" fill="none"/>
<path d="M1441.8 139.6h0" stroke="#de5f65" stroke-width="3.8" stroke-linecap="round" fill="none"/>
<path d="M1447.5 148.5h0" stroke="#f3874a" stroke-width="3.8" stroke-linecap="round" fill="none"/>
<path d="M1448 142.1h0" stroke="#f89540" stroke-width="3.8" stroke-linecap="round" fill="none"/>
<path d="M1444.4 141.8h0" stroke="#fca338" stroke-width="3.8" stroke-linecap="round" fill="none"/>
<path d="M1446.6 142h0" stroke="#fdb42f" stroke-width="3.8" stroke-linecap="round" fill="none"/>
<path d="M1445 153h0M1449 152h0M1453.5 152.3h0M1458 153h0M1462 154.5h0M1447 156.5h0M1451.5 157h0M1456 157.5h0M1460 158.5h0M1450 161h0M1454.5 161.5h0" stroke="#1a0a94" stroke-width="8" stroke-linecap="round" fill="none"/>
<path d="M1261.3 56.06V322.4M1259.96 322.4H1540" stroke="#000" stroke-width="2.67" fill="none"/>
<text transform="translate(1238.3 95.8) rotate(0.03)" font-size="20" text-anchor="end">2</text>
<text transform="translate(1238.3 150.2) rotate(0.03)" font-size="20" text-anchor="end">0</text>
<text transform="translate(1238.3 204.6) rotate(0.03)" font-size="20" text-anchor="end">-2</text>
<text transform="translate(1238.3 259) rotate(0.03)" font-size="20" text-anchor="end">-4</text>
<text transform="translate(1238.3 313.4) rotate(0.03)" font-size="20" text-anchor="end">-6</text>
<text transform="translate(1294.4 359.6) rotate(0.03)" font-size="20" text-anchor="middle">-6</text>
<text transform="translate(1346.3 359.6) rotate(0.03)" font-size="20" text-anchor="middle">-4</text>
<text transform="translate(1398.2 359.6) rotate(0.03)" font-size="20" text-anchor="middle">-2</text>
<text transform="translate(1450.1 359.6) rotate(0.03)" font-size="20" text-anchor="middle">0</text>
<text transform="translate(1502 359.6) rotate(0.03)" font-size="20" text-anchor="middle">2</text>
<path d="M1249.96 88.65H1261.3M1249.96 143.05H1261.3M1249.96 197.45H1261.3M1249.96 251.85H1261.3M1249.96 306.25H1261.3M1294.4 322.4V333.63M1346.3 322.4V333.63M1398.2 322.4V333.63M1450.1 322.4V333.63M1502 322.4V333.63" stroke="#000" stroke-width="2.67" fill="none"/>
<text transform="translate(1320.7 115.3) rotate(0.03)" font-size="19.4">r = 0.81</text>
<text transform="translate(1397.2 394.3) rotate(0.03)" font-size="22.67" text-anchor="middle">Splicing impact</text>
<text transform="translate(1397.2 420.3) rotate(0.03)" font-size="22.67" text-anchor="middle">(mouse model)</text>
<text transform="translate(1175.8 190) rotate(-89.97)" font-size="22.67" text-anchor="middle">Splicing impact</text>
<text transform="translate(1202.1 190) rotate(-89.97)" font-size="22.67" text-anchor="middle">(Human K562 model)</text>
</svg>
</body></html>
